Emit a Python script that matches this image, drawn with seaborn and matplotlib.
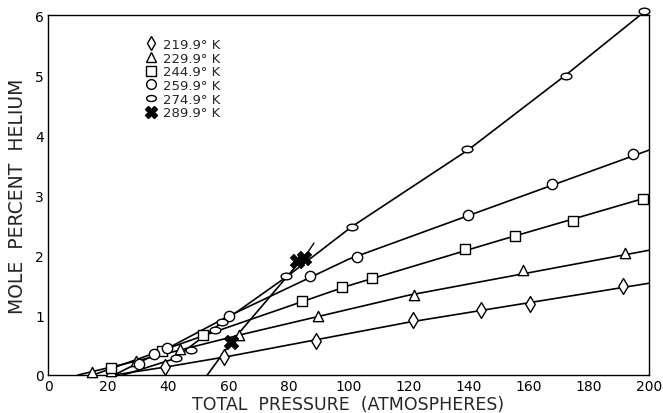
import numpy as np
import pandas as pd
import matplotlib
matplotlib.use('Agg')
import matplotlib.pyplot as plt
from matplotlib.path import Path
from matplotlib.lines import Line2D
import seaborn as sns

# punti (pressione totale, % molare elio)
temps = ['219.9° K', '229.9° K', '244.9° K', '259.9° K', '274.9° K', '289.9° K']

p_2199 = [39, 58.4, 89.2, 121.4, 144, 160.4, 191.4]
y_2199 = [0.13, 0.30, 0.57, 0.91, 1.09, 1.19, 1.48]
p_2299 = [14.6, 21, 29.2, 44, 63.7, 89.7, 121.7, 158, 192]
y_2299 = [0.05, 0.07, 0.24, 0.44, 0.67, 0.99, 1.34, 1.75, 2.03]
p_2449 = [21, 38, 51.7, 84.4, 97.8, 107.7, 138.7, 155.3, 174.7, 198]
y_2449 = [0.11, 0.40, 0.66, 1.24, 1.46, 1.61, 2.10, 2.32, 2.57, 2.94]
p_2599 = [30.3, 35.3, 39.6, 60.3, 87.3, 102.7, 139.7, 167.7, 194.7]
y_2599 = [0.18, 0.35, 0.45, 0.99, 1.65, 1.97, 2.66, 3.18, 3.68]
p_2749 = [42.7, 47.6, 55.7, 58, 79.3, 101.3, 139.3, 172.3, 198.3]
y_2749 = [0.28, 0.41, 0.75, 0.88, 1.65, 2.47, 3.76, 4.99, 6.07]
p_2899 = [61, 83, 85.3]
y_2899 = [0.55, 1.90, 1.95]

# curve tracciate a mano nel grafico originale
lp_2199 = [22, 40, 60, 120, 200]
ly_2199 = [0, 0.14, 0.31, 0.88, 1.53]
lp_2299 = [10, 30, 64, 120, 200]
ly_2299 = [0, 0.24, 0.67, 1.33, 2.08]
lp_2449 = [15, 52, 100, 150, 200]
ly_2449 = [0, 0.66, 1.49, 2.24, 2.97]
lp_2599 = [22, 40, 60, 100, 140, 200]
ly_2599 = [0, 0.45, 0.98, 1.93, 2.66, 3.75]
lp_2749 = [25, 42, 58, 80, 101, 140, 172, 200]
ly_2749 = [0, 0.27, 0.88, 1.66, 2.47, 3.76, 4.99, 6.12]
lp_2899 = [53, 61, 86]
ly_2899 = [0, 0.55, 2.02]
lp_2899_ext = [86.5, 88.5]
ly_2899_ext = [2.05, 2.2]

xticks = [0, 20, 40, 60, 80, 100, 120, 140, 160, 180, 200]
yticks = [0, 1, 2, 3, 4, 5, 6]

sns.set_style('white')
plt.rcParams['font.family'] = ['DejaVu Sans']

ellisse = Path.unit_circle().transformed(matplotlib.transforms.Affine2D().scale(1.0, 0.62))

marcatori = ['d', '^', 's', 'o', ellisse, 'X']
dimensioni = [65, 55, 50, 55, 60, 110]
punti = [(p_2199, y_2199), (p_2299, y_2299), (p_2449, y_2449),
         (p_2599, y_2599), (p_2749, y_2749), (p_2899, y_2899)]
linee = [(lp_2199, ly_2199), (lp_2299, ly_2299), (lp_2449, ly_2449),
         (lp_2599, ly_2599), (lp_2749, ly_2749), (lp_2899, ly_2899)]

fig = plt.figure(figsize=(6.63, 4.14), dpi=100)
ax = fig.add_axes([0.0724, 0.0918, 0.9066, 0.8692])

for (lx, ly) in linee:
    sns.lineplot(x=lx, y=ly, ax=ax, color='black', linewidth=1.2,
                 sort=False, estimator=None, zorder=2)
sns.lineplot(x=lp_2899_ext, y=ly_2899_ext, ax=ax, color='black', linewidth=1.0,
             sort=False, estimator=None, zorder=2)

for i, (px, py) in enumerate(punti):
    if i == 5:
        sc = sns.scatterplot(x=px, y=py, ax=ax, marker='X', s=dimensioni[i],
                             color='black', edgecolor='black', linewidth=0.5, zorder=4)
    else:
        sc = sns.scatterplot(x=px, y=py, ax=ax, marker=marcatori[i], s=dimensioni[i],
                             facecolor='white', edgecolor='black', linewidth=1.0, zorder=3)
for coll in ax.collections:
    coll.set_clip_on(False)

ax.set_xlim(0, 200)
ax.set_ylim(0, 6)
ax.set_xticks(xticks)
ax.set_yticks(yticks)
ax.set_xticklabels([str(t) for t in xticks], fontsize=10)
ax.set_yticklabels([str(t) for t in yticks], fontsize=10)
ax.tick_params(direction='in', length=9, width=1.0, pad=3, colors='black')
for s in ax.spines.values():
    s.set_visible(True)
    s.set_color('black')
    s.set_linewidth(1.0)

ax.set_xlabel('TOTAL  PRESSURE  (ATMOSPHERES)', fontsize=12.5, labelpad=1)
ax.set_ylabel('MOLE  PERCENT  HELIUM', fontsize=13.5, labelpad=6)

maniglie = []
for i in range(6):
    if i == 5:
        h = Line2D([], [], linestyle='none', marker='X', markersize=8,
                   markerfacecolor='black', markeredgecolor='black')
    else:
        h = Line2D([], [], linestyle='none', marker=marcatori[i], markersize=7,
                   markerfacecolor='white', markeredgecolor='black', markeredgewidth=1.0)
    maniglie.append(h)
ax.legend(maniglie, temps, loc='upper left', bbox_to_anchor=(0.15, 0.955),
          frameon=False, fontsize=9.5, labelspacing=0.05, handletextpad=0.4,
          handlelength=1.0, borderpad=0)

fig.savefig('out.png', dpi=100)
